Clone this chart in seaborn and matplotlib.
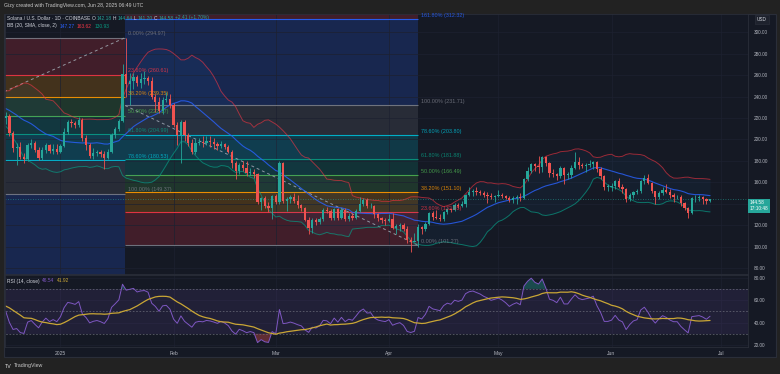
import numpy as np
import pandas as pd
import matplotlib
matplotlib.use("Agg")
import matplotlib.pyplot as plt
import matplotlib.transforms as mtransforms
from matplotlib.patches import Rectangle
import seaborn as sns

# SOL/USD daily (Coinbase). Closes before the visible window only warm up BB(20) and RSI(14).
warmup_close = [213, 218, 240, 237, 234, 238, 241, 257, 256, 254, 250, 236, 231, 240, 240, 237, 236,   # Nov 14-30
                236, 225, 226, 233, 238, 238, 234, 238, 213, 212, 228, 227, 228, 222, 223, 220]        # Dec 1-16

first_day = "2024-12-17"
close = [222, 206, 192, 193, 184, 182, 195, 197, 190, 183, 190, 195, 189, 191.5, 188,   # Dec 17-31
         194, 207, 216, 215, 213.5, 218, 201, 195, 185, 187, 188, 186, 183, 188.5, 204, 210, 217, 261, 252, 255,
         258, 253, 256, 257, 255, 240, 235, 227, 237, 238, 232,                         # Jan
         213.5, 204, 216.5, 204, 196.5, 188.5, 196.5, 198, 197, 199, 198, 196, 193.5, 196, 193, 188.5, 178, 171,
         176, 173, 169, 170, 168, 142, 145, 138, 136, 147,                              # Feb
         142, 178, 143, 144, 146, 143, 139, 136, 125, 117.5, 125, 123, 126, 134, 133, 127, 135, 127, 134, 125.5,
         129, 127, 133, 140, 143.5, 137.5, 138, 130, 126.5, 125, 124,                   # Mar
         126, 117.5, 119, 120, 116, 106, 104, 105, 118, 116, 121, 131, 128, 127, 126, 132, 135, 134, 139, 138,
         139.5, 148, 151, 152, 151, 150, 148.5, 147.5, 146, 147,                         # Apr
         148, 147, 145.5, 143.5, 145, 146, 145, 163, 171, 177.5, 175, 174, 184, 178, 169, 168, 166, 173, 167, 167,
         173, 179, 176, 175, 176, 177, 179, 172, 166, 156, 156,                          # May
         157, 161, 156, 154, 144, 148, 151, 152, 161, 164, 159, 151.5, 146, 150, 153, 151, 148, 146, 146, 140.5,
         136, 131.5, 145, 145.5, 146, 144.5, 142.17, 144.58]                              # Jun 1-28
high = [226, 224, 208, 197, 198, 187, 197, 200, 199, 193, 193, 197, 196, 196, 196,
        196, 211, 218, 219, 217, 221, 220, 204, 197, 192, 190, 190, 189, 191, 206, 212, 219, 270, 295, 262,
        262, 260, 262, 264, 259, 258, 242, 240, 240, 244, 242,
        234, 216, 218, 218, 206, 200, 200, 201, 203, 203, 203, 201, 198, 199, 197, 195, 190, 180,
        178, 180, 180, 173, 172, 169, 146, 147, 142, 148,
        149, 180, 179, 146, 148, 150, 148, 140, 137, 128, 127, 127, 128, 136, 137, 135, 136, 136, 136, 136,
        131, 131, 135, 146, 145, 145, 141, 139, 131, 128, 127,
        130, 131, 121, 122, 122, 119, 109, 113, 121, 119, 123, 132, 133, 134, 130, 133, 136, 136, 141, 141,
        143, 149, 156, 154, 156, 153, 152, 151, 150, 148,
        153, 150, 148, 147, 147, 148, 150, 164, 174, 178, 178, 185, 185, 185, 179, 172, 169, 175, 174, 170,
        176, 188, 184, 178, 178, 181, 180, 180, 174, 167, 158,
        159, 162, 164, 158, 155, 150, 152, 154, 162, 167, 168, 160, 152, 152, 156, 158, 154, 150, 148, 148,
        142, 137, 146, 148, 148, 147, 145, 144.64]
low = [214, 203, 188, 176, 182, 178, 180, 192, 188, 181, 181, 187, 187, 186, 186,
       187, 193, 205, 212, 211, 212, 199, 190, 183, 182, 185, 184, 172, 182, 187, 201, 208, 216, 240, 232,
       247, 250, 248, 252, 251, 238, 226, 225, 224, 235, 229,
       212, 195, 178, 199, 194, 186, 186, 195, 193, 195, 193, 191, 190, 192, 191, 187, 173, 163,
       168, 171, 166, 167, 164, 140, 134, 136, 132, 126,
       140, 140, 141, 133, 141, 141, 136, 133, 124, 112, 113, 120, 121, 124, 131, 125, 125, 125, 126, 124,
       124, 125, 126, 132, 138, 136, 136, 127, 124, 122, 120,
       123, 116, 112, 115, 115, 103, 95, 104, 100, 112, 115, 120, 125, 126, 124, 124, 130, 132, 133, 136,
       137, 137, 147, 147, 148, 148, 146, 141, 144, 142,
       146, 145, 144, 142, 141, 140, 143, 144, 161, 169, 171, 169, 170, 175, 165, 165, 162, 164, 158, 163,
       164, 172, 172, 173, 170, 174, 172, 170, 163, 153, 152,
       152, 154, 155, 150, 142, 143, 145, 149, 150, 158, 158, 150, 140, 144, 148, 150, 145, 142, 144, 138,
       134, 126.5, 130, 142, 143, 140, 139.5, 141.2]

# fib drawings: ratios and default TradingView level colours
fib_ratio = [0, 0.236, 0.382, 0.5, 0.618, 0.786, 1, 1.618, 2.618]
fib_color = ["#787b86", "#f23645", "#ff9800", "#4caf50", "#089981", "#00bcd4", "#787b86", "#2962ff", "#f23645"]
# (price at 0%, price at 100%, first day, last day) - days counted from 2025-01-01
fib_left = (294.97, 149.37, -78, 17.7)
fib_right = (101.27, 231.71, 17.7, 98)

month_days = [0, 31, 59, 90, 120, 151, 181]
month_labels = ["2025", "Feb", "Mar", "Apr", "May", "Jun", "Jul"]
price_ticks = [80, 100, 120, 140, 160, 180, 200, 220, 240, 260, 280, 300]
rsi_ticks = [20, 40, 60, 80]
last_price = "144.58"   # hides the 140.00 label behind the price tag

BG = "#151924"
UP, DOWN = "#26a69a", "#ef5350"
TXT = "#b2b5be"

# ---- derived series
dates = pd.date_range(first_day, periods=len(close), freq="D")
day = (dates - pd.Timestamp("2025-01-01")).days.values
all_day = np.concatenate([day[0] - np.arange(len(warmup_close), 0, -1), day])
all_close = pd.Series(warmup_close + close, dtype=float)
opens = np.array([warmup_close[-1]] + close[:-1], dtype=float)
c = np.array(close, dtype=float)

mid = all_close.rolling(20).mean()
sd = all_close.rolling(20).std(ddof=0)
upper, lower = mid + 2 * sd, mid - 2 * sd

delta = all_close.diff()
gain = delta.clip(lower=0).ewm(alpha=1 / 14, adjust=False).mean()
loss = (-delta.clip(upper=0)).ewm(alpha=1 / 14, adjust=False).mean()
rsi = 100 - 100 / (1 + gain / loss)
rsi_ma = rsi.rolling(14).mean()

# ---- figure
sns.set_style("dark")
plt.rcParams["font.family"] = ["Liberation Sans", "DejaVu Sans"]
W, H = 780, 374
fig = plt.figure(figsize=(W / 100, H / 100), dpi=100, facecolor="#222222")


def box(x0, y0, x1, y1):
    return [x0 / W, 1 - y1 / H, (x1 - x0) / W, (y1 - y0) / H]


fig.patches.append(Rectangle((4 / W, 1 - 357 / H), 772 / W, 343 / H, transform=fig.transFigure,
                             fc=BG, ec="#2a2e39", lw=0.8, zorder=-10))
ax = fig.add_axes(box(5, 14, 748, 274))
ax_rsi = fig.add_axes(box(5, 275, 748, 347), sharex=ax)

for a in (ax, ax_rsi):
    a.set_facecolor(BG)
    for s in a.spines.values():
        s.set_color("#2a2e39")
        s.set_linewidth(0.6)
    a.grid(True, color="#1d2130", lw=0.5)
    a.set_axisbelow(True)
    a.yaxis.tick_right()

# fib fills, lines and labels
for p0, p1, d0, d1 in (fib_left, fib_right):
    levels = [p0 + r * (p1 - p0) for r in fib_ratio]
    for i in range(1, len(levels)):
        ax.fill_between([d0, d1], levels[i - 1], levels[i], color=fib_color[i], alpha=0.2, lw=0, zorder=0.5)
    ax.hlines(levels, d0, d1, colors=fib_color, lw=0.8, alpha=0.9, zorder=0.6)
    for r, lv, col in zip(fib_ratio, levels, fib_color):
        if 80 < lv < 314:
            ax.text(d1 + 0.7, lv + 1.2, f"{r * 100:.2f}% ({lv:.2f})", color=col, fontsize=3.9,
                    va="bottom", ha="left", alpha=0.85, zorder=4)

# dashed trend lines of the two fib tools
ax.plot([fib_left[2], fib_left[3]], [fib_left[1], fib_left[0]], color="#9598a1", lw=0.7,
        ls=(0, (3, 3)), zorder=1)
ax.plot([fib_right[2], fib_right[3]], [fib_right[1], fib_right[0]], color="#9598a1", lw=0.7,
        ls=(0, (3, 3)), zorder=1)

# Bollinger bands
ax.fill_between(all_day, lower, upper, color="#2196f3", alpha=0.05, lw=0, zorder=1)
sns.lineplot(x=all_day, y=upper, ax=ax, color="#f23645", lw=0.7, alpha=0.6, legend=False, zorder=2)
sns.lineplot(x=all_day, y=lower, ax=ax, color="#089981", lw=0.7, alpha=0.7, legend=False, zorder=2)
sns.lineplot(x=all_day, y=mid, ax=ax, color="#2962ff", lw=0.8, alpha=0.8, legend=False, zorder=2)

# candles
col = np.where(c >= opens, UP, DOWN)
ax.vlines(day, low, high, colors=col, lw=0.6, zorder=3)
ax.bar(day, np.maximum(np.abs(c - opens), 0.5), bottom=np.minimum(c, opens), width=0.62,
       color=col, lw=0, zorder=3)

ax.axhline(c[-1], color=UP, ls=(0, (1, 2)), lw=0.6, alpha=0.7, zorder=2)
ax.annotate(f"{last_price}\n17:10:48", xy=(1, c[-1]),
            xycoords=mtransforms.blended_transform_factory(ax.transAxes, ax.transData),
            xytext=(1.3, -5), textcoords="offset points", va="center", ha="left", fontsize=3.4,
            color="white", linespacing=1.2, annotation_clip=False, zorder=10,
            bbox=dict(boxstyle="square,pad=0.35", fc=UP, ec="none"))

ax.set_xlim(-15.2, 188.4)
ax.set_ylim(74.4, 317.1)
ax.set_yticks(price_ticks)
ax.set_yticklabels(["" if v == 140 else f"{v:.2f}" for v in price_ticks])
ax.tick_params(axis="y", length=0, pad=4, labelsize=3.4, colors=TXT)
ax.tick_params(axis="x", length=0, labelbottom=False)
ax.set_xlabel("")
ax.set_ylabel("")

# RSI pane
ax_rsi.axhspan(30, 70, color="#7e57c2", alpha=0.12, lw=0)
ax_rsi.hlines([30, 50, 70], -40, 200, colors="#787b86", lw=0.6, ls=(0, (2, 2)), alpha=0.7)
rv = rsi.values
ax_rsi.fill_between(all_day, rv, 70, where=rv > 70, color="#26a69a", alpha=0.35, lw=0, interpolate=True)
ax_rsi.fill_between(all_day, rv, 30, where=rv < 30, color="#ef5350", alpha=0.35, lw=0, interpolate=True)
sns.lineplot(x=all_day, y=rsi, ax=ax_rsi, color="#7e57c2", lw=0.7, legend=False)
sns.lineplot(x=all_day, y=rsi_ma, ax=ax_rsi, color="#c9a635", lw=0.9, legend=False)
ax_rsi.set_ylim(18.2, 82.4)
ax_rsi.set_yticks(rsi_ticks)
ax_rsi.set_yticklabels([f"{v:.2f}" for v in rsi_ticks])
ax_rsi.set_xticks(month_days)
ax_rsi.set_xticklabels(month_labels)
ax_rsi.tick_params(axis="y", length=0, pad=4, labelsize=3.4, colors=TXT)
ax_rsi.tick_params(axis="x", length=0, pad=3, labelsize=3.6, colors=TXT)
ax_rsi.set_xlabel("")
ax_rsi.set_ylabel("")
ax_rsi.set_xlim(-15.2, 188.4)

renderer = fig.canvas.get_renderer()


def txt_row(x, y, pieces, size=3.5, gap=1.5):
    # lay out coloured text pieces one after another, like the TradingView legend
    for s, color in pieces:
        t = fig.text(x / W, 1 - y / H, s, color=color, fontsize=size, va="center", ha="left")
        x = t.get_window_extent(renderer).x1 + gap


LBL = "#d1d4dc"
txt_row(4, 6, [("Gizy created with TradingView.com, Jun 28, 2025 06:49 UTC", "#c8c8c8")], size=3.7)
txt_row(7, 18, [("Solana / U.S. Dollar · 1D · COINBASE", LBL), ("O", LBL), ("142.18", UP), ("H", LBL),
                ("144.64", UP), ("L", LBL), ("141.20", UP), ("C", LBL), ("144.58", UP),
                ("+2.41 (+1.70%)", UP)], gap=1.2)
txt_row(7, 26, [("BB (20, SMA, close, 2)", LBL), ("147.27", "#2962ff"), ("163.62", "#f23645"),
                ("130.93", "#089981")], gap=2.5)
txt_row(7, 281, [("RSI (14, close)", LBL), ("46.54", "#7e57c2"), ("41.92", "#c9a635")], gap=2.5)
fig.text(762 / W, 1 - 19.5 / H, "USD", color=LBL, fontsize=3.4, va="center", ha="center",
         bbox=dict(boxstyle="square,pad=0.5", fc="#1e222d", ec="#2a2e39", lw=0.5))
txt_row(5, 366, [("TV", "#e0e0e0"), ("TradingView", "#c8c8c8")], size=3.8, gap=2)

fig.savefig("out.png", dpi=100, facecolor=fig.get_facecolor())
